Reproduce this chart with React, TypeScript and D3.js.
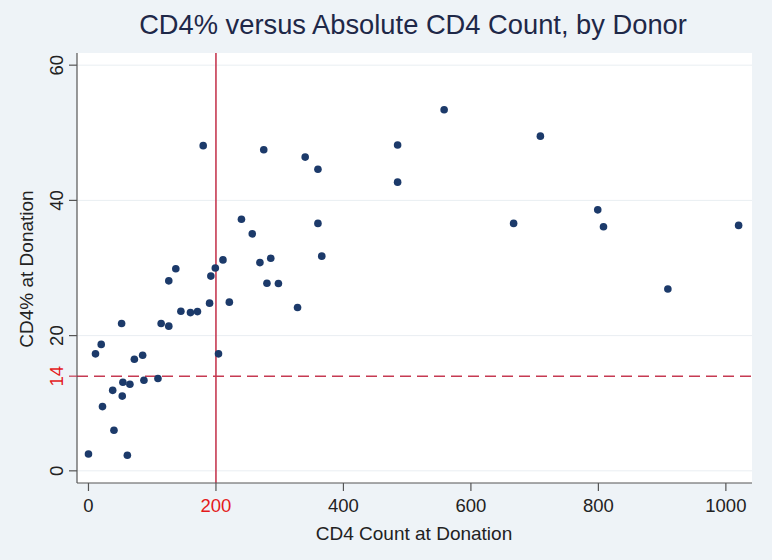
import React from "react";
import * as d3 from "d3";

const cd4Count = [0, 11, 20, 22, 38, 40, 52, 54, 53, 61, 65, 72, 85, 87, 109, 114, 126, 126, 137, 145, 160, 171, 190, 192, 199, 211, 204, 221, 180, 275, 340, 360, 485, 485, 240, 257, 360, 269, 286, 366, 280, 298, 328, 558, 709, 799, 667, 808, 1020, 909];
const cd4Pct = [2.5, 17.3, 18.7, 9.5, 11.9, 6.0, 21.8, 13.1, 11.05, 2.3, 12.8, 16.5, 17.1, 13.4, 13.65, 21.8, 21.4, 28.1, 29.9, 23.6, 23.4, 23.55, 24.8, 28.8, 30.0, 31.2, 17.3, 24.95, 48.1, 47.5, 46.4, 44.6, 48.2, 42.7, 37.2, 35.05, 36.6, 30.8, 31.45, 31.75, 27.75, 27.7, 24.15, 53.4, 49.5, 38.6, 36.6, 36.1, 36.3, 26.9];

const xTicks = [0, 200, 400, 600, 800, 1000];
const yTicks = [0, 20, 40, 60];
const yRef = 14;
const xRef = 200;

const W = 772;
const H = 560;
const plot = { left: 77, right: 752, top: 53, bottom: 483 };
const FONT = "'Liberation Sans', Arial, Helvetica, sans-serif";

export default function App() {
  const x = d3.scaleLinear().domain([-18, 1041]).range([plot.left, plot.right]);
  const y = d3.scaleLinear().domain([-1.8, 61.8]).range([plot.bottom, plot.top]);
  const data = cd4Count.map((c, i) => ({ c, p: cd4Pct[i] }));

  return (
    <svg width={W} height={H} style={{ position: "absolute", left: 0, top: 0 }} fontFamily={FONT}>
      <rect x={0} y={0} width={W} height={H} fill="#eef3f7" />
      <rect x={plot.left} y={plot.top} width={plot.right - plot.left} height={plot.bottom - plot.top} fill="#ffffff" />
      {yTicks.map((t) => (
        <line key={"g" + t} x1={plot.left} x2={plot.right} y1={y(t)} y2={y(t)} stroke="#e9eef2" strokeWidth={1} />
      ))}
      {/* reference lines */}
      <line x1={plot.left} x2={plot.right} y1={y(yRef)} y2={y(yRef)} stroke="#c63a52" strokeWidth={1.6} strokeDasharray="11,6" />
      <line x1={x(xRef)} x2={x(xRef)} y1={plot.top} y2={plot.bottom} stroke="#c63a52" strokeWidth={1.6} />
      {/* points */}
      {data.map((d, i) => (
        <circle key={i} cx={x(d.c)} cy={y(d.p)} r={3.8} fill="#1c3a6a" />
      ))}
      {/* axes */}
      <line x1={plot.left} x2={plot.left} y1={plot.top} y2={plot.bottom} stroke="#555" strokeWidth={1.2} />
      <line x1={plot.left} x2={plot.right} y1={plot.bottom} y2={plot.bottom} stroke="#555" strokeWidth={1.2} />
      {yTicks.map((t) => (
        <g key={"yt" + t}>
          <line x1={plot.left - 8} x2={plot.left} y1={y(t)} y2={y(t)} stroke="#555" strokeWidth={1.2} />
          <text transform={`translate(63,${y(t)}) rotate(-90)`} textAnchor="middle" fontSize={18.5} fill="#222">{t}</text>
        </g>
      ))}
      <g>
        <line x1={plot.left - 8} x2={plot.left} y1={y(yRef)} y2={y(yRef)} stroke="#c63a52" strokeWidth={1.2} />
        <text transform={`translate(63,${y(yRef)}) rotate(-90)`} textAnchor="middle" fontSize={18.5} fill="#e41a1c">{yRef}</text>
      </g>
      {xTicks.map((t) => (
        <g key={"xt" + t}>
          <line x1={x(t)} x2={x(t)} y1={plot.bottom} y2={plot.bottom + 8} stroke="#555" strokeWidth={1.2} />
          <text x={x(t)} y={512} textAnchor="middle" fontSize={18.5} fill={t === xRef ? "#e41a1c" : "#222"}>{t}</text>
        </g>
      ))}
      <text x={414} y={540} textAnchor="middle" fontSize={19} fill="#222">CD4 Count at Donation</text>
      <text transform={`translate(33,${269}) rotate(-90)`} textAnchor="middle" fontSize={19} fill="#222">CD4% at Donation</text>
      <text x={413} y={34} textAnchor="middle" fontSize={27.3} fill="#1e2848">CD4% versus Absolute CD4 Count, by Donor</text>
    </svg>
  );
}
